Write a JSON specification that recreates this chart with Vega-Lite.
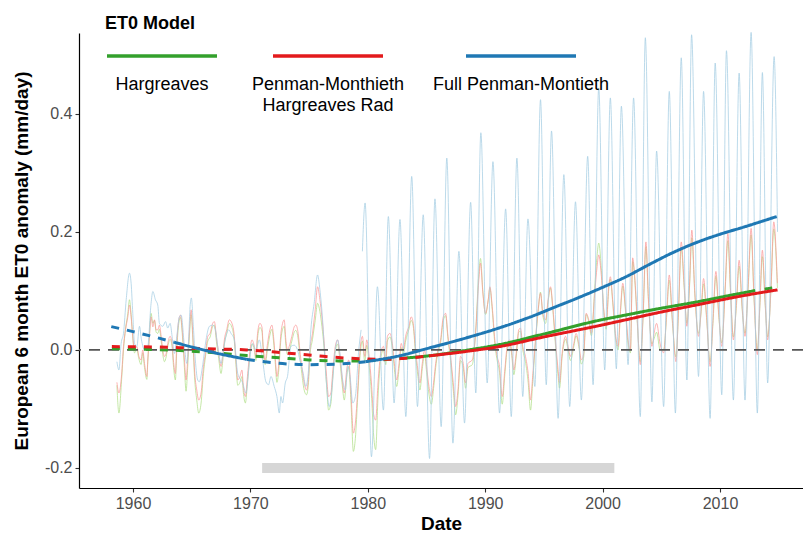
{
  "$schema": "https://vega.github.io/schema/vega-lite/v6.json",
  "width": 724,
  "height": 455,
  "autosize": {"type": "none"},
  "padding": {"left": 79, "top": 33, "right": 0, "bottom": 50},
  "background": "white",
  "config": {
    "view": {"stroke": null},
    "font": "Liberation Sans",
    "style": {"guide-label": {"dy": 20, "lineHeight": 21}},
    "axis": {"grid": false, "domainColor": "black", "domainWidth": 1.2, "tickColor": "#333333", "tickSize": 4, "tickWidth": 1.1, "labelColor": "#4d4d4d", "labelFontSize": 16, "labelFont": "Liberation Sans", "titleFont": "Liberation Sans", "titleFontSize": 19, "titleFontWeight": "bold", "titleColor": "black"}
  },
  "datasets": {
    "ref": [{"t0": 1971, "t1": 2001, "v": -0.2}],
    "noisy": [
      {"m":"H","s":"H","t":1958.63,"v":-0.060},{"m":"H","s":"H","t":1958.80,"v":-0.107},{"m":"H","s":"H","t":1959.03,"v":-0.050},{"m":"H","s":"H","t":1959.19,"v":0.000},{"m":"H","s":"H","t":1959.36,"v":0.035},{"m":"H","s":"H","t":1959.56,"v":0.062},{"m":"H","s":"H","t":1959.70,"v":0.085},{"m":"H","s":"H","t":1959.84,"v":0.060},{"m":"H","s":"H","t":1959.98,"v":0.020},{"m":"H","s":"H","t":1960.13,"v":-0.005},{"m":"H","s":"H","t":1960.33,"v":0.000},{"m":"H","s":"H","t":1960.50,"v":-0.015},{"m":"H","s":"H","t":1960.69,"v":-0.025},{"m":"H","s":"H","t":1960.83,"v":-0.005},{"m":"H","s":"H","t":1960.98,"v":-0.030},{"m":"H","s":"H","t":1961.18,"v":-0.050},{"m":"H","s":"H","t":1961.26,"v":-0.020},{"m":"H","s":"H","t":1961.40,"v":0.025},{"m":"H","s":"H","t":1961.54,"v":0.062},{"m":"H","s":"H","t":1961.69,"v":0.045},{"m":"H","s":"H","t":1961.83,"v":0.050},{"m":"H","s":"H","t":1961.97,"v":0.030},{"m":"H","s":"H","t":1962.11,"v":0.028},{"m":"H","s":"H","t":1962.25,"v":0.035},{"m":"H","s":"H","t":1962.40,"v":0.015},{"m":"H","s":"H","t":1962.54,"v":-0.008},{"m":"H","s":"H","t":1962.68,"v":-0.020},{"m":"H","s":"H","t":1962.82,"v":-0.012},{"m":"H","s":"H","t":1962.96,"v":0.005},{"m":"H","s":"H","t":1963.16,"v":0.018},{"m":"H","s":"H","t":1963.33,"v":0.005},{"m":"H","s":"H","t":1963.44,"v":-0.025},{"m":"H","s":"H","t":1963.61,"v":-0.051},{"m":"H","s":"H","t":1963.73,"v":0.000},{"m":"H","s":"H","t":1963.90,"v":0.045},{"m":"H","s":"H","t":1964.04,"v":0.055},{"m":"H","s":"H","t":1964.24,"v":0.015},{"m":"H","s":"H","t":1964.38,"v":-0.030},{"m":"H","s":"H","t":1964.52,"v":-0.070},{"m":"H","s":"H","t":1964.67,"v":-0.025},{"m":"H","s":"H","t":1964.81,"v":0.025},{"m":"H","s":"H","t":1964.95,"v":0.060},{"m":"H","s":"H","t":1965.09,"v":0.020},{"m":"H","s":"H","t":1965.24,"v":-0.045},{"m":"H","s":"H","t":1965.43,"v":-0.085},{"m":"H","s":"H","t":1965.60,"v":-0.107},{"m":"H","s":"H","t":1965.80,"v":-0.090},{"m":"H","s":"H","t":1966.00,"v":-0.040},{"m":"H","s":"H","t":1966.17,"v":-0.012},{"m":"H","s":"H","t":1966.37,"v":0.015},{"m":"H","s":"H","t":1966.57,"v":0.022},{"m":"H","s":"H","t":1966.79,"v":0.040},{"m":"H","s":"H","t":1966.93,"v":0.042},{"m":"H","s":"H","t":1967.13,"v":0.010},{"m":"H","s":"H","t":1967.30,"v":-0.015},{"m":"H","s":"H","t":1967.50,"v":-0.040},{"m":"H","s":"H","t":1967.64,"v":-0.020},{"m":"H","s":"H","t":1967.78,"v":0.010},{"m":"H","s":"H","t":1967.98,"v":0.028},{"m":"H","s":"H","t":1968.20,"v":0.045},{"m":"H","s":"H","t":1968.43,"v":0.038},{"m":"H","s":"H","t":1968.63,"v":0.015},{"m":"H","s":"H","t":1968.77,"v":-0.025},{"m":"H","s":"H","t":1968.92,"v":-0.060},{"m":"H","s":"H","t":1969.11,"v":-0.055},{"m":"H","s":"H","t":1969.28,"v":-0.045},{"m":"H","s":"H","t":1969.40,"v":-0.072},{"m":"H","s":"H","t":1969.57,"v":-0.090},{"m":"H","s":"H","t":1969.77,"v":-0.050},{"m":"H","s":"H","t":1969.97,"v":-0.008},{"m":"H","s":"H","t":1970.13,"v":0.010},{"m":"H","s":"H","t":1970.33,"v":0.000},{"m":"H","s":"H","t":1970.47,"v":-0.018},{"m":"H","s":"H","t":1970.61,"v":0.020},{"m":"H","s":"H","t":1970.81,"v":0.038},{"m":"H","s":"H","t":1970.98,"v":0.032},{"m":"H","s":"H","t":1971.09,"v":0.000},{"m":"H","s":"H","t":1971.26,"v":-0.025},{"m":"H","s":"H","t":1971.46,"v":0.002},{"m":"H","s":"H","t":1971.66,"v":0.025},{"m":"H","s":"H","t":1971.83,"v":0.035},{"m":"H","s":"H","t":1971.97,"v":0.015},{"m":"H","s":"H","t":1972.11,"v":-0.020},{"m":"H","s":"H","t":1972.26,"v":-0.055},{"m":"H","s":"H","t":1972.40,"v":-0.038},{"m":"H","s":"H","t":1972.60,"v":0.018},{"m":"H","s":"H","t":1972.74,"v":0.035},{"m":"H","s":"H","t":1972.88,"v":0.040},{"m":"H","s":"H","t":1973.02,"v":0.008},{"m":"H","s":"H","t":1973.16,"v":-0.008},{"m":"H","s":"H","t":1973.30,"v":-0.002},{"m":"H","s":"H","t":1973.53,"v":0.015},{"m":"H","s":"H","t":1973.73,"v":0.030},{"m":"H","s":"H","t":1973.87,"v":0.033},{"m":"H","s":"H","t":1974.07,"v":0.018},{"m":"H","s":"H","t":1974.21,"v":-0.010},{"m":"H","s":"H","t":1974.38,"v":-0.040},{"m":"H","s":"H","t":1974.58,"v":-0.068},{"m":"H","s":"H","t":1974.78,"v":-0.076},{"m":"H","s":"H","t":1974.95,"v":-0.055},{"m":"H","s":"H","t":1975.07,"v":-0.010},{"m":"H","s":"H","t":1975.29,"v":0.018},{"m":"H","s":"H","t":1975.52,"v":0.050},{"m":"H","s":"H","t":1975.72,"v":0.079},{"m":"H","s":"H","t":1975.92,"v":0.065},{"m":"H","s":"H","t":1976.09,"v":0.040},{"m":"H","s":"H","t":1976.29,"v":0.000},{"m":"H","s":"H","t":1976.49,"v":-0.060},{"m":"H","s":"H","t":1976.66,"v":-0.102},{"m":"H","s":"H","t":1976.86,"v":-0.090},{"m":"H","s":"H","t":1977.00,"v":-0.050},{"m":"H","s":"H","t":1977.23,"v":-0.002},{"m":"H","s":"H","t":1977.43,"v":0.010},{"m":"H","s":"H","t":1977.57,"v":-0.008},{"m":"H","s":"H","t":1977.80,"v":-0.055},{"m":"H","s":"H","t":1978.00,"v":-0.085},{"m":"H","s":"H","t":1978.20,"v":-0.045},{"m":"H","s":"H","t":1978.37,"v":-0.028},{"m":"H","s":"H","t":1978.57,"v":-0.090},{"m":"H","s":"H","t":1978.77,"v":-0.172},{"m":"H","s":"H","t":1978.94,"v":-0.150},{"m":"H","s":"H","t":1979.14,"v":-0.080},{"m":"H","s":"H","t":1979.34,"v":-0.010},{"m":"H","s":"H","t":1979.54,"v":0.015},{"m":"H","s":"H","t":1979.74,"v":-0.020},{"m":"H","s":"H","t":1979.91,"v":0.008},{"m":"H","s":"H","t":1980.11,"v":-0.025},{"m":"H","s":"H","t":1980.31,"v":-0.075},{"m":"H","s":"H","t":1980.48,"v":-0.140},{"m":"H","s":"H","t":1980.67,"v":-0.169},{"m":"H","s":"H","t":1980.87,"v":-0.080},{"m":"H","s":"H","t":1981.10,"v":-0.015},{"m":"H","s":"H","t":1981.33,"v":0.000},{"m":"H","s":"H","t":1981.53,"v":-0.025},{"m":"H","s":"H","t":1981.67,"v":0.015},{"m":"H","s":"H","t":1981.89,"v":0.022},{"m":"H","s":"H","t":1982.09,"v":0.003},{"m":"H","s":"H","t":1982.29,"v":-0.038},{"m":"H","s":"H","t":1982.46,"v":-0.062},{"m":"H","s":"H","t":1982.66,"v":-0.032},{"m":"H","s":"H","t":1982.85,"v":0.004},{"m":"H","s":"H","t":1983.02,"v":-0.008},{"m":"H","s":"H","t":1983.22,"v":0.015},{"m":"H","s":"H","t":1983.50,"v":0.035},{"m":"H","s":"H","t":1983.70,"v":0.050},{"m":"H","s":"H","t":1983.87,"v":0.040},{"m":"H","s":"H","t":1984.07,"v":-0.008},{"m":"H","s":"H","t":1984.27,"v":-0.045},{"m":"H","s":"H","t":1984.44,"v":-0.068},{"m":"H","s":"H","t":1984.64,"v":-0.032},{"m":"H","s":"H","t":1984.84,"v":-0.008},{"m":"H","s":"H","t":1985.01,"v":-0.038},{"m":"H","s":"H","t":1985.21,"v":-0.075},{"m":"H","s":"H","t":1985.41,"v":-0.092},{"m":"H","s":"H","t":1985.63,"v":-0.060},{"m":"H","s":"H","t":1985.78,"v":-0.030},{"m":"H","s":"H","t":1985.97,"v":-0.005},{"m":"H","s":"H","t":1986.20,"v":0.012},{"m":"H","s":"H","t":1986.43,"v":0.050},{"m":"H","s":"H","t":1986.63,"v":0.058},{"m":"H","s":"H","t":1986.83,"v":0.018},{"m":"H","s":"H","t":1987.05,"v":-0.018},{"m":"H","s":"H","t":1987.28,"v":-0.068},{"m":"H","s":"H","t":1987.48,"v":-0.110},{"m":"H","s":"H","t":1987.68,"v":-0.078},{"m":"H","s":"H","t":1987.90,"v":-0.018},{"m":"H","s":"H","t":1988.13,"v":-0.030},{"m":"H","s":"H","t":1988.33,"v":-0.065},{"m":"H","s":"H","t":1988.53,"v":-0.030},{"m":"H","s":"H","t":1988.90,"v":-0.025},{"m":"H","s":"H","t":1989.18,"v":0.030},{"m":"H","s":"H","t":1989.46,"v":0.130},{"m":"H","s":"H","t":1989.60,"v":0.155},{"m":"H","s":"H","t":1989.80,"v":0.100},{"m":"H","s":"H","t":1990.03,"v":0.060},{"m":"H","s":"H","t":1990.26,"v":0.085},{"m":"H","s":"H","t":1990.40,"v":0.105},{"m":"H","s":"H","t":1990.60,"v":0.068},{"m":"H","s":"H","t":1990.82,"v":0.010},{"m":"H","s":"H","t":1991.02,"v":-0.018},{"m":"H","s":"H","t":1991.22,"v":-0.038},{"m":"H","s":"H","t":1991.45,"v":-0.092},{"m":"H","s":"H","t":1991.67,"v":-0.042},{"m":"H","s":"H","t":1991.87,"v":0.000},{"m":"H","s":"H","t":1992.07,"v":0.012},{"m":"H","s":"H","t":1992.24,"v":-0.005},{"m":"H","s":"H","t":1992.44,"v":-0.042},{"m":"H","s":"H","t":1992.64,"v":-0.012},{"m":"H","s":"H","t":1992.86,"v":0.030},{"m":"H","s":"H","t":1993.00,"v":0.032},{"m":"H","s":"H","t":1993.20,"v":0.000},{"m":"H","s":"H","t":1993.43,"v":-0.020},{"m":"H","s":"H","t":1993.66,"v":-0.055},{"m":"H","s":"H","t":1993.86,"v":-0.102},{"m":"H","s":"H","t":1994.06,"v":-0.050},{"m":"H","s":"H","t":1994.28,"v":0.012},{"m":"H","s":"H","t":1994.51,"v":0.065},{"m":"H","s":"H","t":1994.71,"v":0.098},{"m":"H","s":"H","t":1994.91,"v":0.058},{"m":"H","s":"H","t":1995.14,"v":0.045},{"m":"H","s":"H","t":1995.36,"v":0.082},{"m":"H","s":"H","t":1995.56,"v":0.105},{"m":"H","s":"H","t":1995.76,"v":0.068},{"m":"H","s":"H","t":1995.98,"v":0.010},{"m":"H","s":"H","t":1996.21,"v":-0.045},{"m":"H","s":"H","t":1996.33,"v":-0.065},{"m":"H","s":"H","t":1996.55,"v":-0.012},{"m":"H","s":"H","t":1996.84,"v":0.018},{"m":"H","s":"H","t":1997.06,"v":0.000},{"m":"H","s":"H","t":1997.26,"v":-0.018},{"m":"H","s":"H","t":1997.55,"v":0.006},{"m":"H","s":"H","t":1997.74,"v":0.024},{"m":"H","s":"H","t":1997.97,"v":0.006},{"m":"H","s":"H","t":1998.19,"v":-0.024},{"m":"H","s":"H","t":1998.39,"v":-0.012},{"m":"H","s":"H","t":1998.60,"v":0.060},{"m":"H","s":"H","t":1998.82,"v":0.048},{"m":"H","s":"H","t":1999.05,"v":0.024},{"m":"H","s":"H","t":1999.33,"v":0.105},{"m":"H","s":"H","t":1999.53,"v":0.160},{"m":"H","s":"H","t":1999.67,"v":0.181},{"m":"H","s":"H","t":1999.90,"v":0.135},{"m":"H","s":"H","t":2000.10,"v":0.065},{"m":"H","s":"H","t":2000.30,"v":0.035},{"m":"H","s":"H","t":2000.52,"v":0.102},{"m":"H","s":"H","t":2000.66,"v":0.120},{"m":"H","s":"H","t":2000.86,"v":0.080},{"m":"H","s":"H","t":2001.09,"v":0.022},{"m":"H","s":"H","t":2001.32,"v":0.000},{"m":"H","s":"H","t":2001.52,"v":0.062},{"m":"H","s":"H","t":2001.72,"v":0.108},{"m":"H","s":"H","t":2001.94,"v":0.068},{"m":"H","s":"H","t":2002.17,"v":0.010},{"m":"H","s":"H","t":2002.37,"v":-0.005},{"m":"H","s":"H","t":2002.56,"v":0.150},{"m":"H","s":"H","t":2002.74,"v":0.118},{"m":"H","s":"H","t":2002.94,"v":0.050},{"m":"H","s":"H","t":2003.21,"v":-0.020},{"m":"H","s":"H","t":2003.45,"v":0.055},{"m":"H","s":"H","t":2003.69,"v":0.175},{"m":"H","s":"H","t":2003.90,"v":0.085},{"m":"H","s":"H","t":2004.20,"v":0.010},{"m":"H","s":"H","t":2004.40,"v":0.020},{"m":"H","s":"H","t":2004.60,"v":0.030},{"m":"H","s":"H","t":2004.90,"v":0.000},{"m":"H","s":"H","t":2005.20,"v":0.000},{"m":"H","s":"H","t":2005.45,"v":0.055},{"m":"H","s":"H","t":2005.68,"v":0.118},{"m":"H","s":"H","t":2005.95,"v":0.045},{"m":"H","s":"H","t":2006.25,"v":-0.012},{"m":"H","s":"H","t":2006.45,"v":0.055},{"m":"H","s":"H","t":2006.70,"v":0.172},{"m":"H","s":"H","t":2006.95,"v":0.105},{"m":"H","s":"H","t":2007.18,"v":0.045},{"m":"H","s":"H","t":2007.40,"v":0.105},{"m":"H","s":"H","t":2007.60,"v":0.190},{"m":"H","s":"H","t":2007.85,"v":0.095},{"m":"H","s":"H","t":2008.17,"v":0.028},{"m":"H","s":"H","t":2008.40,"v":0.065},{"m":"H","s":"H","t":2008.60,"v":0.112},{"m":"H","s":"H","t":2008.85,"v":0.055},{"m":"H","s":"H","t":2009.16,"v":-0.020},{"m":"H","s":"H","t":2009.40,"v":0.045},{"m":"H","s":"H","t":2009.65,"v":0.125},{"m":"H","s":"H","t":2009.90,"v":0.055},{"m":"H","s":"H","t":2010.15,"v":0.012},{"m":"H","s":"H","t":2010.45,"v":0.105},{"m":"H","s":"H","t":2010.67,"v":0.185},{"m":"H","s":"H","t":2010.90,"v":0.095},{"m":"H","s":"H","t":2011.14,"v":0.022},{"m":"H","s":"H","t":2011.40,"v":0.075},{"m":"H","s":"H","t":2011.63,"v":0.142},{"m":"H","s":"H","t":2011.90,"v":0.065},{"m":"H","s":"H","t":2012.13,"v":0.028},{"m":"H","s":"H","t":2012.40,"v":0.105},{"m":"H","s":"H","t":2012.65,"v":0.195},{"m":"H","s":"H","t":2012.90,"v":0.085},{"m":"H","s":"H","t":2013.18,"v":0.000},{"m":"H","s":"H","t":2013.40,"v":0.075},{"m":"H","s":"H","t":2013.61,"v":0.158},{"m":"H","s":"H","t":2013.85,"v":0.075},{"m":"H","s":"H","t":2014.06,"v":0.022},{"m":"H","s":"H","t":2014.35,"v":0.105},{"m":"H","s":"H","t":2014.58,"v":0.205},{"m":"H","s":"H","t":2014.89,"v":0.105},
      {"m":"P","s":"P","t":1958.63,"v":-0.055},{"m":"P","s":"P","t":1958.80,"v":-0.073},{"m":"P","s":"P","t":1959.03,"v":-0.042},{"m":"P","s":"P","t":1959.19,"v":0.006},{"m":"P","s":"P","t":1959.36,"v":0.034},{"m":"P","s":"P","t":1959.56,"v":0.056},{"m":"P","s":"P","t":1959.70,"v":0.076},{"m":"P","s":"P","t":1959.84,"v":0.056},{"m":"P","s":"P","t":1959.98,"v":0.023},{"m":"P","s":"P","t":1960.13,"v":0.000},{"m":"P","s":"P","t":1960.33,"v":0.006},{"m":"P","s":"P","t":1960.50,"v":-0.011},{"m":"P","s":"P","t":1960.69,"v":-0.017},{"m":"P","s":"P","t":1960.83,"v":0.000},{"m":"P","s":"P","t":1960.98,"v":-0.023},{"m":"P","s":"P","t":1961.18,"v":-0.045},{"m":"P","s":"P","t":1961.26,"v":-0.017},{"m":"P","s":"P","t":1961.40,"v":0.023},{"m":"P","s":"P","t":1961.54,"v":0.056},{"m":"P","s":"P","t":1961.69,"v":0.039},{"m":"P","s":"P","t":1961.83,"v":0.051},{"m":"P","s":"P","t":1961.97,"v":0.034},{"m":"P","s":"P","t":1962.11,"v":0.034},{"m":"P","s":"P","t":1962.25,"v":0.042},{"m":"P","s":"P","t":1962.40,"v":0.023},{"m":"P","s":"P","t":1962.54,"v":0.000},{"m":"P","s":"P","t":1962.68,"v":-0.011},{"m":"P","s":"P","t":1962.82,"v":-0.006},{"m":"P","s":"P","t":1962.96,"v":0.011},{"m":"P","s":"P","t":1963.16,"v":0.023},{"m":"P","s":"P","t":1963.33,"v":0.011},{"m":"P","s":"P","t":1963.44,"v":-0.017},{"m":"P","s":"P","t":1963.61,"v":-0.040},{"m":"P","s":"P","t":1963.73,"v":0.011},{"m":"P","s":"P","t":1963.90,"v":0.051},{"m":"P","s":"P","t":1964.04,"v":0.059},{"m":"P","s":"P","t":1964.24,"v":0.023},{"m":"P","s":"P","t":1964.38,"v":-0.017},{"m":"P","s":"P","t":1964.52,"v":-0.051},{"m":"P","s":"P","t":1964.67,"v":-0.011},{"m":"P","s":"P","t":1964.81,"v":0.034},{"m":"P","s":"P","t":1964.95,"v":0.068},{"m":"P","s":"P","t":1965.09,"v":0.028},{"m":"P","s":"P","t":1965.24,"v":-0.034},{"m":"P","s":"P","t":1965.43,"v":-0.068},{"m":"P","s":"P","t":1965.60,"v":-0.085},{"m":"P","s":"P","t":1965.80,"v":-0.073},{"m":"P","s":"P","t":1966.00,"v":-0.028},{"m":"P","s":"P","t":1966.17,"v":-0.006},{"m":"P","s":"P","t":1966.37,"v":0.023},{"m":"P","s":"P","t":1966.57,"v":0.028},{"m":"P","s":"P","t":1966.79,"v":0.045},{"m":"P","s":"P","t":1966.93,"v":0.048},{"m":"P","s":"P","t":1967.13,"v":0.017},{"m":"P","s":"P","t":1967.30,"v":-0.006},{"m":"P","s":"P","t":1967.50,"v":-0.028},{"m":"P","s":"P","t":1967.64,"v":-0.011},{"m":"P","s":"P","t":1967.78,"v":0.017},{"m":"P","s":"P","t":1967.98,"v":0.034},{"m":"P","s":"P","t":1968.20,"v":0.051},{"m":"P","s":"P","t":1968.43,"v":0.045},{"m":"P","s":"P","t":1968.63,"v":0.023},{"m":"P","s":"P","t":1968.77,"v":-0.017},{"m":"P","s":"P","t":1968.92,"v":-0.051},{"m":"P","s":"P","t":1969.11,"v":-0.045},{"m":"P","s":"P","t":1969.28,"v":-0.034},{"m":"P","s":"P","t":1969.40,"v":-0.062},{"m":"P","s":"P","t":1969.57,"v":-0.079},{"m":"P","s":"P","t":1969.77,"v":-0.040},{"m":"P","s":"P","t":1969.97,"v":0.000},{"m":"P","s":"P","t":1970.13,"v":0.017},{"m":"P","s":"P","t":1970.33,"v":0.006},{"m":"P","s":"P","t":1970.47,"v":-0.011},{"m":"P","s":"P","t":1970.61,"v":0.028},{"m":"P","s":"P","t":1970.81,"v":0.045},{"m":"P","s":"P","t":1970.98,"v":0.039},{"m":"P","s":"P","t":1971.09,"v":0.006},{"m":"P","s":"P","t":1971.26,"v":-0.017},{"m":"P","s":"P","t":1971.46,"v":0.011},{"m":"P","s":"P","t":1971.66,"v":0.034},{"m":"P","s":"P","t":1971.83,"v":0.042},{"m":"P","s":"P","t":1971.97,"v":0.023},{"m":"P","s":"P","t":1972.11,"v":-0.011},{"m":"P","s":"P","t":1972.26,"v":-0.045},{"m":"P","s":"P","t":1972.40,"v":-0.028},{"m":"P","s":"P","t":1972.60,"v":0.028},{"m":"P","s":"P","t":1972.74,"v":0.045},{"m":"P","s":"P","t":1972.88,"v":0.051},{"m":"P","s":"P","t":1973.02,"v":0.017},{"m":"P","s":"P","t":1973.16,"v":0.000},{"m":"P","s":"P","t":1973.30,"v":0.006},{"m":"P","s":"P","t":1973.53,"v":0.023},{"m":"P","s":"P","t":1973.73,"v":0.039},{"m":"P","s":"P","t":1973.87,"v":0.042},{"m":"P","s":"P","t":1974.07,"v":0.028},{"m":"P","s":"P","t":1974.21,"v":0.000},{"m":"P","s":"P","t":1974.38,"v":-0.028},{"m":"P","s":"P","t":1974.58,"v":-0.056},{"m":"P","s":"P","t":1974.78,"v":-0.068},{"m":"P","s":"P","t":1974.95,"v":-0.045},{"m":"P","s":"P","t":1975.07,"v":0.000},{"m":"P","s":"P","t":1975.29,"v":0.028},{"m":"P","s":"P","t":1975.52,"v":0.068},{"m":"P","s":"P","t":1975.72,"v":0.107},{"m":"P","s":"P","t":1975.92,"v":0.085},{"m":"P","s":"P","t":1976.09,"v":0.056},{"m":"P","s":"P","t":1976.29,"v":0.011},{"m":"P","s":"P","t":1976.49,"v":-0.045},{"m":"P","s":"P","t":1976.66,"v":-0.079},{"m":"P","s":"P","t":1976.86,"v":-0.073},{"m":"P","s":"P","t":1977.00,"v":-0.040},{"m":"P","s":"P","t":1977.23,"v":0.006},{"m":"P","s":"P","t":1977.43,"v":0.017},{"m":"P","s":"P","t":1977.57,"v":0.000},{"m":"P","s":"P","t":1977.80,"v":-0.045},{"m":"P","s":"P","t":1978.00,"v":-0.073},{"m":"P","s":"P","t":1978.20,"v":-0.034},{"m":"P","s":"P","t":1978.37,"v":-0.017},{"m":"P","s":"P","t":1978.57,"v":-0.073},{"m":"P","s":"P","t":1978.77,"v":-0.141},{"m":"P","s":"P","t":1978.94,"v":-0.124},{"m":"P","s":"P","t":1979.14,"v":-0.068},{"m":"P","s":"P","t":1979.34,"v":0.000},{"m":"P","s":"P","t":1979.54,"v":0.023},{"m":"P","s":"P","t":1979.74,"v":-0.011},{"m":"P","s":"P","t":1979.91,"v":0.017},{"m":"P","s":"P","t":1980.11,"v":-0.011},{"m":"P","s":"P","t":1980.31,"v":-0.056},{"m":"P","s":"P","t":1980.48,"v":-0.107},{"m":"P","s":"P","t":1980.67,"v":-0.119},{"m":"P","s":"P","t":1980.87,"v":-0.056},{"m":"P","s":"P","t":1981.10,"v":-0.006},{"m":"P","s":"P","t":1981.33,"v":0.006},{"m":"P","s":"P","t":1981.53,"v":-0.017},{"m":"P","s":"P","t":1981.67,"v":0.023},{"m":"P","s":"P","t":1981.89,"v":0.028},{"m":"P","s":"P","t":1982.09,"v":0.011},{"m":"P","s":"P","t":1982.29,"v":-0.028},{"m":"P","s":"P","t":1982.46,"v":-0.051},{"m":"P","s":"P","t":1982.66,"v":-0.023},{"m":"P","s":"P","t":1982.85,"v":0.011},{"m":"P","s":"P","t":1983.02,"v":0.000},{"m":"P","s":"P","t":1983.22,"v":0.023},{"m":"P","s":"P","t":1983.50,"v":0.040},{"m":"P","s":"P","t":1983.70,"v":0.056},{"m":"P","s":"P","t":1983.87,"v":0.045},{"m":"P","s":"P","t":1984.07,"v":0.000},{"m":"P","s":"P","t":1984.27,"v":-0.034},{"m":"P","s":"P","t":1984.44,"v":-0.056},{"m":"P","s":"P","t":1984.64,"v":-0.023},{"m":"P","s":"P","t":1984.84,"v":0.000},{"m":"P","s":"P","t":1985.01,"v":-0.028},{"m":"P","s":"P","t":1985.21,"v":-0.062},{"m":"P","s":"P","t":1985.41,"v":-0.079},{"m":"P","s":"P","t":1985.63,"v":-0.051},{"m":"P","s":"P","t":1985.78,"v":-0.023},{"m":"P","s":"P","t":1985.97,"v":0.000},{"m":"P","s":"P","t":1986.20,"v":0.017},{"m":"P","s":"P","t":1986.43,"v":0.056},{"m":"P","s":"P","t":1986.63,"v":0.062},{"m":"P","s":"P","t":1986.83,"v":0.023},{"m":"P","s":"P","t":1987.05,"v":-0.011},{"m":"P","s":"P","t":1987.28,"v":-0.056},{"m":"P","s":"P","t":1987.48,"v":-0.096},{"m":"P","s":"P","t":1987.68,"v":-0.068},{"m":"P","s":"P","t":1987.90,"v":-0.011},{"m":"P","s":"P","t":1988.13,"v":-0.023},{"m":"P","s":"P","t":1988.33,"v":-0.056},{"m":"P","s":"P","t":1988.53,"v":-0.023},{"m":"P","s":"P","t":1988.90,"v":-0.017},{"m":"P","s":"P","t":1989.18,"v":0.028},{"m":"P","s":"P","t":1989.46,"v":0.119},{"m":"P","s":"P","t":1989.60,"v":0.147},{"m":"P","s":"P","t":1989.80,"v":0.096},{"m":"P","s":"P","t":1990.03,"v":0.062},{"m":"P","s":"P","t":1990.26,"v":0.085},{"m":"P","s":"P","t":1990.40,"v":0.107},{"m":"P","s":"P","t":1990.60,"v":0.073},{"m":"P","s":"P","t":1990.82,"v":0.017},{"m":"P","s":"P","t":1991.02,"v":-0.011},{"m":"P","s":"P","t":1991.22,"v":-0.028},{"m":"P","s":"P","t":1991.45,"v":-0.079},{"m":"P","s":"P","t":1991.67,"v":-0.034},{"m":"P","s":"P","t":1991.87,"v":0.006},{"m":"P","s":"P","t":1992.07,"v":0.017},{"m":"P","s":"P","t":1992.24,"v":0.000},{"m":"P","s":"P","t":1992.44,"v":-0.034},{"m":"P","s":"P","t":1992.64,"v":-0.006},{"m":"P","s":"P","t":1992.86,"v":0.034},{"m":"P","s":"P","t":1993.00,"v":0.037},{"m":"P","s":"P","t":1993.20,"v":0.006},{"m":"P","s":"P","t":1993.43,"v":-0.011},{"m":"P","s":"P","t":1993.66,"v":-0.040},{"m":"P","s":"P","t":1993.86,"v":-0.085},{"m":"P","s":"P","t":1994.06,"v":-0.040},{"m":"P","s":"P","t":1994.28,"v":0.017},{"m":"P","s":"P","t":1994.51,"v":0.068},{"m":"P","s":"P","t":1994.71,"v":0.096},{"m":"P","s":"P","t":1994.91,"v":0.062},{"m":"P","s":"P","t":1995.14,"v":0.051},{"m":"P","s":"P","t":1995.36,"v":0.085},{"m":"P","s":"P","t":1995.56,"v":0.107},{"m":"P","s":"P","t":1995.76,"v":0.073},{"m":"P","s":"P","t":1995.98,"v":0.017},{"m":"P","s":"P","t":1996.21,"v":-0.034},{"m":"P","s":"P","t":1996.33,"v":-0.056},{"m":"P","s":"P","t":1996.55,"v":-0.006},{"m":"P","s":"P","t":1996.84,"v":0.023},{"m":"P","s":"P","t":1997.06,"v":0.006},{"m":"P","s":"P","t":1997.26,"v":-0.011},{"m":"P","s":"P","t":1997.55,"v":0.011},{"m":"P","s":"P","t":1997.74,"v":0.028},{"m":"P","s":"P","t":1997.97,"v":0.011},{"m":"P","s":"P","t":1998.19,"v":-0.017},{"m":"P","s":"P","t":1998.39,"v":-0.006},{"m":"P","s":"P","t":1998.60,"v":0.062},{"m":"P","s":"P","t":1998.82,"v":0.051},{"m":"P","s":"P","t":1999.05,"v":0.028},{"m":"P","s":"P","t":1999.33,"v":0.096},{"m":"P","s":"P","t":1999.53,"v":0.141},{"m":"P","s":"P","t":1999.67,"v":0.161},{"m":"P","s":"P","t":1999.90,"v":0.124},{"m":"P","s":"P","t":2000.10,"v":0.068},{"m":"P","s":"P","t":2000.30,"v":0.040},{"m":"P","s":"P","t":2000.52,"v":0.107},{"m":"P","s":"P","t":2000.66,"v":0.124},{"m":"P","s":"P","t":2000.86,"v":0.085},{"m":"P","s":"P","t":2001.09,"v":0.028},{"m":"P","s":"P","t":2001.32,"v":0.006},{"m":"P","s":"P","t":2001.52,"v":0.068},{"m":"P","s":"P","t":2001.72,"v":0.113},{"m":"P","s":"P","t":2001.94,"v":0.073},{"m":"P","s":"P","t":2002.17,"v":0.017},{"m":"P","s":"P","t":2002.37,"v":0.000},{"m":"P","s":"P","t":2002.56,"v":0.156},{"m":"P","s":"P","t":2002.74,"v":0.124},{"m":"P","s":"P","t":2002.94,"v":0.056},{"m":"P","s":"P","t":2003.21,"v":-0.025},{"m":"P","s":"P","t":2003.45,"v":0.060},{"m":"P","s":"P","t":2003.69,"v":0.183},{"m":"P","s":"P","t":2003.90,"v":0.090},{"m":"P","s":"P","t":2004.20,"v":0.006},{"m":"P","s":"P","t":2004.40,"v":0.030},{"m":"P","s":"P","t":2004.60,"v":0.045},{"m":"P","s":"P","t":2004.90,"v":0.010},{"m":"P","s":"P","t":2005.20,"v":-0.005},{"m":"P","s":"P","t":2005.45,"v":0.060},{"m":"P","s":"P","t":2005.68,"v":0.127},{"m":"P","s":"P","t":2005.95,"v":0.050},{"m":"P","s":"P","t":2006.25,"v":-0.020},{"m":"P","s":"P","t":2006.45,"v":0.060},{"m":"P","s":"P","t":2006.70,"v":0.183},{"m":"P","s":"P","t":2006.95,"v":0.110},{"m":"P","s":"P","t":2007.18,"v":0.040},{"m":"P","s":"P","t":2007.40,"v":0.110},{"m":"P","s":"P","t":2007.60,"v":0.203},{"m":"P","s":"P","t":2007.85,"v":0.100},{"m":"P","s":"P","t":2008.17,"v":0.023},{"m":"P","s":"P","t":2008.40,"v":0.070},{"m":"P","s":"P","t":2008.60,"v":0.121},{"m":"P","s":"P","t":2008.85,"v":0.060},{"m":"P","s":"P","t":2009.16,"v":-0.028},{"m":"P","s":"P","t":2009.40,"v":0.050},{"m":"P","s":"P","t":2009.65,"v":0.133},{"m":"P","s":"P","t":2009.90,"v":0.060},{"m":"P","s":"P","t":2010.15,"v":0.006},{"m":"P","s":"P","t":2010.45,"v":0.110},{"m":"P","s":"P","t":2010.67,"v":0.198},{"m":"P","s":"P","t":2010.90,"v":0.100},{"m":"P","s":"P","t":2011.14,"v":0.017},{"m":"P","s":"P","t":2011.40,"v":0.080},{"m":"P","s":"P","t":2011.63,"v":0.152},{"m":"P","s":"P","t":2011.90,"v":0.070},{"m":"P","s":"P","t":2012.13,"v":0.023},{"m":"P","s":"P","t":2012.40,"v":0.110},{"m":"P","s":"P","t":2012.65,"v":0.206},{"m":"P","s":"P","t":2012.90,"v":0.090},{"m":"P","s":"P","t":2013.18,"v":-0.008},{"m":"P","s":"P","t":2013.40,"v":0.080},{"m":"P","s":"P","t":2013.61,"v":0.169},{"m":"P","s":"P","t":2013.85,"v":0.080},{"m":"P","s":"P","t":2014.06,"v":0.017},{"m":"P","s":"P","t":2014.35,"v":0.110},{"m":"P","s":"P","t":2014.58,"v":0.217},{"m":"P","s":"P","t":2014.89,"v":0.113},
      {"m":"F","s":"Fa","t":1958.63,"v":-0.020},{"m":"F","s":"Fa","t":1958.80,"v":-0.034},{"m":"F","s":"Fa","t":1958.99,"v":0.011},{"m":"F","s":"Fa","t":1959.19,"v":0.028},{"m":"F","s":"Fa","t":1959.42,"v":0.085},{"m":"F","s":"Fa","t":1959.70,"v":0.130},{"m":"F","s":"Fa","t":1959.84,"v":0.113},{"m":"F","s":"Fa","t":1959.98,"v":0.062},{"m":"F","s":"Fa","t":1960.13,"v":0.011},{"m":"F","s":"Fa","t":1960.33,"v":0.006},{"m":"F","s":"Fa","t":1960.55,"v":0.040},{"m":"F","s":"Fa","t":1960.72,"v":0.017},{"m":"F","s":"Fa","t":1960.98,"v":0.000},{"m":"F","s":"Fa","t":1961.26,"v":0.006},{"m":"F","s":"Fa","t":1961.54,"v":0.079},{"m":"F","s":"Fa","t":1961.69,"v":0.099},{"m":"F","s":"Fa","t":1961.91,"v":0.085},{"m":"F","s":"Fa","t":1962.11,"v":0.076},{"m":"F","s":"Fa","t":1962.25,"v":0.045},{"m":"F","s":"Fa","t":1962.54,"v":0.040},{"m":"F","s":"Fa","t":1962.77,"v":0.048},{"m":"F","s":"Fa","t":1962.96,"v":0.037},{"m":"F","s":"Fa","t":1963.16,"v":0.045},{"m":"F","s":"Fa","t":1963.33,"v":0.023},{"m":"F","s":"Fa","t":1963.53,"v":-0.006},{"m":"F","s":"Fa","t":1963.73,"v":0.023},{"m":"F","s":"Fa","t":1963.95,"v":0.056},{"m":"F","s":"Fa","t":1964.10,"v":0.059},{"m":"F","s":"Fa","t":1964.38,"v":0.006},{"m":"F","s":"Fa","t":1964.58,"v":-0.023},{"m":"F","s":"Fa","t":1964.75,"v":0.023},{"m":"F","s":"Fa","t":1964.86,"v":0.073},{"m":"F","s":"Fa","t":1964.97,"v":0.088},{"m":"F","s":"Fa","t":1965.14,"v":0.040},{"m":"F","s":"Fa","t":1965.31,"v":-0.017},{"m":"F","s":"Fa","t":1965.51,"v":-0.051},{"m":"F","s":"Fa","t":1965.65,"v":-0.054},{"m":"F","s":"Fa","t":1965.94,"v":-0.025},{"m":"F","s":"Fa","t":1966.22,"v":0.017},{"m":"F","s":"Fa","t":1966.51,"v":0.040},{"m":"F","s":"Fa","t":1966.79,"v":0.042},{"m":"F","s":"Fa","t":1967.02,"v":0.034},{"m":"F","s":"Fa","t":1967.22,"v":0.006},{"m":"F","s":"Fa","t":1967.50,"v":-0.023},{"m":"F","s":"Fa","t":1967.70,"v":0.000},{"m":"F","s":"Fa","t":1967.92,"v":0.023},{"m":"F","s":"Fa","t":1968.15,"v":0.034},{"m":"F","s":"Fa","t":1968.35,"v":0.028},{"m":"F","s":"Fa","t":1968.63,"v":0.017},{"m":"F","s":"Fa","t":1968.92,"v":-0.040},{"m":"F","s":"Fa","t":1969.34,"v":-0.056},{"m":"F","s":"Fa","t":1969.62,"v":-0.073},{"m":"F","s":"Fa","t":1969.97,"v":-0.011},{"m":"F","s":"Fa","t":1970.19,"v":0.011},{"m":"F","s":"Fa","t":1970.47,"v":0.000},{"m":"F","s":"Fa","t":1970.76,"v":0.017},{"m":"F","s":"Fa","t":1971.04,"v":-0.017},{"m":"F","s":"Fa","t":1971.32,"v":-0.054},{"m":"F","s":"Fa","t":1971.55,"v":-0.059},{"m":"F","s":"Fa","t":1971.75,"v":-0.045},{"m":"F","s":"Fa","t":1972.03,"v":-0.062},{"m":"F","s":"Fa","t":1972.26,"v":-0.079},{"m":"F","s":"Fa","t":1972.46,"v":-0.107},{"m":"F","s":"Fa","t":1972.60,"v":-0.079},{"m":"F","s":"Fa","t":1972.74,"v":-0.090},{"m":"F","s":"Fa","t":1972.97,"v":-0.056},{"m":"F","s":"Fa","t":1973.16,"v":-0.045},{"m":"F","s":"Fa","t":1973.45,"v":0.006},{"m":"F","s":"Fa","t":1973.73,"v":0.008},{"m":"F","s":"Fa","t":1974.01,"v":0.000},{"m":"F","s":"Fa","t":1974.21,"v":-0.017},{"m":"F","s":"Fa","t":1974.50,"v":-0.040},{"m":"F","s":"Fa","t":1974.72,"v":-0.062},{"m":"F","s":"Fa","t":1974.95,"v":-0.034},{"m":"F","s":"Fa","t":1975.15,"v":0.034},{"m":"F","s":"Fa","t":1975.43,"v":0.079},{"m":"F","s":"Fa","t":1975.72,"v":0.127},{"m":"F","s":"Fa","t":1975.92,"v":0.102},{"m":"F","s":"Fa","t":1976.15,"v":0.051},{"m":"F","s":"Fa","t":1976.43,"v":-0.045},{"m":"F","s":"Fa","t":1976.72,"v":-0.096},{"m":"F","s":"Fa","t":1976.94,"v":-0.068},{"m":"F","s":"Fa","t":1977.23,"v":0.000},{"m":"F","s":"Fa","t":1977.43,"v":0.017},{"m":"F","s":"Fa","t":1977.63,"v":-0.006},{"m":"F","s":"Fa","t":1977.86,"v":-0.051},{"m":"F","s":"Fa","t":1978.09,"v":-0.068},{"m":"F","s":"Fa","t":1978.29,"v":-0.028},{"m":"F","s":"Fa","t":1978.49,"v":-0.045},{"m":"F","s":"Fa","t":1978.72,"v":-0.090},{"m":"F","s":"Fa","t":1978.94,"v":-0.079},{"m":"F","s":"Fa","t":1979.23,"v":0.000},{"m":"F","s":"Fa","t":1979.43,"v":0.034},
      {"m":"F","s":"Fb","t":1979.54,"v":0.167},{"m":"F","s":"Fb","t":1979.77,"v":0.249},{"m":"F","s":"Fb","t":1980.31,"v":-0.181},{"m":"F","s":"Fb","t":1980.82,"v":0.107},{"m":"F","s":"Fb","t":1981.33,"v":-0.102},{"m":"F","s":"Fb","t":1981.75,"v":0.226},{"m":"F","s":"Fb","t":1982.24,"v":-0.090},{"m":"F","s":"Fb","t":1982.74,"v":0.221},{"m":"F","s":"Fb","t":1983.24,"v":-0.113},{"m":"F","s":"Fb","t":1983.74,"v":0.294},{"m":"F","s":"Fb","t":1984.23,"v":-0.096},{"m":"F","s":"Fb","t":1984.72,"v":0.229},{"m":"F","s":"Fb","t":1985.26,"v":-0.184},{"m":"F","s":"Fb","t":1985.72,"v":0.256},{"m":"F","s":"Fb","t":1986.25,"v":-0.130},{"m":"F","s":"Fb","t":1986.73,"v":0.325},{"m":"F","s":"Fb","t":1987.25,"v":-0.158},{"m":"F","s":"Fb","t":1987.76,"v":0.167},{"m":"F","s":"Fb","t":1988.24,"v":-0.124},{"m":"F","s":"Fb","t":1988.76,"v":0.250},{"m":"F","s":"Fb","t":1989.20,"v":-0.073},{"m":"F","s":"Fb","t":1989.63,"v":0.368},{"m":"F","s":"Fb","t":1990.17,"v":-0.056},{"m":"F","s":"Fb","t":1990.66,"v":0.319},{"m":"F","s":"Fb","t":1991.22,"v":-0.107},{"m":"F","s":"Fb","t":1991.74,"v":0.239},{"m":"F","s":"Fb","t":1992.22,"v":-0.113},{"m":"F","s":"Fb","t":1992.70,"v":0.325},{"m":"F","s":"Fb","t":1993.20,"v":-0.079},{"m":"F","s":"Fb","t":1993.64,"v":0.222},{"m":"F","s":"Fb","t":1994.23,"v":-0.062},{"m":"F","s":"Fb","t":1994.71,"v":0.424},{"m":"F","s":"Fb","t":1995.20,"v":-0.059},{"m":"F","s":"Fb","t":1995.65,"v":0.371},{"m":"F","s":"Fb","t":1996.21,"v":-0.116},{"m":"F","s":"Fb","t":1996.70,"v":0.297},{"m":"F","s":"Fb","t":1997.20,"v":-0.096},{"m":"F","s":"Fb","t":1997.69,"v":0.251},{"m":"F","s":"Fb","t":1998.19,"v":-0.085},{"m":"F","s":"Fb","t":1998.73,"v":0.328},{"m":"F","s":"Fb","t":1999.19,"v":-0.059},{"m":"F","s":"Fb","t":1999.67,"v":0.444},{"m":"F","s":"Fb","t":2000.18,"v":-0.034},{"m":"F","s":"Fb","t":2000.66,"v":0.427},{"m":"F","s":"Fb","t":2001.17,"v":-0.032},{"m":"F","s":"Fb","t":2001.60,"v":0.413},{"m":"F","s":"Fb","t":2002.17,"v":-0.025},{"m":"F","s":"Fb","t":2002.64,"v":0.427},{"m":"F","s":"Fb","t":2003.21,"v":-0.113},{"m":"F","s":"Fb","t":2003.64,"v":0.529},{"m":"F","s":"Fb","t":2004.20,"v":-0.088},{"m":"F","s":"Fb","t":2004.60,"v":0.337},{"m":"F","s":"Fb","t":2005.20,"v":-0.096},{"m":"F","s":"Fb","t":2005.68,"v":0.438},{"m":"F","s":"Fb","t":2006.20,"v":-0.107},{"m":"F","s":"Fb","t":2006.70,"v":0.495},{"m":"F","s":"Fb","t":2007.18,"v":-0.051},{"m":"F","s":"Fb","t":2007.58,"v":0.534},{"m":"F","s":"Fb","t":2008.17,"v":-0.045},{"m":"F","s":"Fb","t":2008.60,"v":0.438},{"m":"F","s":"Fb","t":2009.16,"v":-0.116},{"m":"F","s":"Fb","t":2009.59,"v":0.486},{"m":"F","s":"Fb","t":2010.15,"v":-0.076},{"m":"F","s":"Fb","t":2010.55,"v":0.507},{"m":"F","s":"Fb","t":2011.14,"v":-0.085},{"m":"F","s":"Fb","t":2011.63,"v":0.469},{"m":"F","s":"Fb","t":2012.13,"v":-0.085},{"m":"F","s":"Fb","t":2012.65,"v":0.538},{"m":"F","s":"Fb","t":2013.18,"v":-0.107},{"m":"F","s":"Fb","t":2013.61,"v":0.470},{"m":"F","s":"Fb","t":2014.06,"v":-0.056},{"m":"F","s":"Fb","t":2014.61,"v":0.497},{"m":"F","s":"Fb","t":2014.90,"v":0.200}
    ],
    "trend": [
      {"m":"H","g":"H1","k":"dash","t":1958.2,"v":0.002},{"m":"H","g":"H1","k":"dash","t":1961,"v":0.001},{"m":"H","g":"H1","k":"dash","t":1964,"v":-0.001},{"m":"H","g":"H1","k":"dash","t":1967,"v":-0.005},{"m":"H","g":"H1","k":"dash","t":1969.7,"v":-0.0096},{"m":"H","g":"H1","k":"dash","t":1972.5,"v":-0.0135},{"m":"H","g":"H1","k":"dash","t":1975,"v":-0.017},{"m":"H","g":"H1","k":"dash","t":1977.5,"v":-0.0186},{"m":"H","g":"H1","k":"dash","t":1979.5,"v":-0.0186},{"m":"H","g":"H1","k":"dash","t":1981,"v":-0.017},{"m":"H","g":"H1","k":"dash","t":1982.7,"v":-0.0145},
      {"m":"H","g":"H2","k":"solid","t":1982.7,"v":-0.0145},{"m":"H","g":"H2","k":"solid","t":1985.2,"v":-0.010},{"m":"H","g":"H2","k":"solid","t":1988.6,"v":0.000},{"m":"H","g":"H2","k":"solid","t":1991.2,"v":0.009},{"m":"H","g":"H2","k":"solid","t":1995,"v":0.027},{"m":"H","g":"H2","k":"solid","t":1999.67,"v":0.050},{"m":"H","g":"H2","k":"solid","t":2002.2,"v":0.060},{"m":"H","g":"H2","k":"solid","t":2004,"v":0.067},{"m":"H","g":"H2","k":"solid","t":2008.2,"v":0.082},{"m":"H","g":"H2","k":"solid","t":2011,"v":0.093},{"m":"H","g":"H2","k":"solid","t":2013.0,"v":0.1006},
      {"m":"H","g":"H3","k":"solid","t":2013.8,"v":0.103},{"m":"H","g":"H3","k":"solid","t":2014.45,"v":0.105},
      {"m":"P","g":"P1","k":"dash","t":1958.2,"v":0.0056},{"m":"P","g":"P1","k":"dash","t":1962,"v":0.005},{"m":"P","g":"P1","k":"dash","t":1965,"v":0.003},{"m":"P","g":"P1","k":"dash","t":1967,"v":0.0017},{"m":"P","g":"P1","k":"dash","t":1969.7,"v":0.0},{"m":"P","g":"P1","k":"dash","t":1972.6,"v":-0.0045},{"m":"P","g":"P1","k":"dash","t":1975.5,"v":-0.0096},{"m":"P","g":"P1","k":"dash","t":1978.3,"v":-0.014},{"m":"P","g":"P1","k":"dash","t":1980,"v":-0.0155},{"m":"P","g":"P1","k":"dash","t":1981.5,"v":-0.016},{"m":"P","g":"P1","k":"dash","t":1983,"v":-0.0145},{"m":"P","g":"P1","k":"dash","t":1985.2,"v":-0.0102},
      {"m":"P","g":"P2","k":"solid","t":1985.2,"v":-0.0102},{"m":"P","g":"P2","k":"solid","t":1988.6,"v":-0.002},{"m":"P","g":"P2","k":"solid","t":1991.2,"v":0.0056},{"m":"P","g":"P2","k":"solid","t":1995,"v":0.022},{"m":"P","g":"P2","k":"solid","t":1999.67,"v":0.041},{"m":"P","g":"P2","k":"solid","t":2002.2,"v":0.052},{"m":"P","g":"P2","k":"solid","t":2004,"v":0.060},{"m":"P","g":"P2","k":"solid","t":2008.2,"v":0.077},{"m":"P","g":"P2","k":"solid","t":2012,"v":0.092},{"m":"P","g":"P2","k":"solid","t":2014.9,"v":0.1017},
      {"m":"F","g":"F1","k":"dash","t":1958.15,"v":0.0395},{"m":"F","g":"F1","k":"dash","t":1960,"v":0.031},{"m":"F","g":"F1","k":"dash","t":1962,"v":0.021},{"m":"F","g":"F1","k":"dash","t":1963.5,"v":0.013},
      {"m":"F","g":"F2","k":"solid","t":1963.5,"v":0.013},{"m":"F","g":"F2","k":"solid","t":1965,"v":0.005},{"m":"F","g":"F2","k":"solid","t":1967,"v":-0.005},{"m":"F","g":"F2","k":"solid","t":1969.7,"v":-0.016},
      {"m":"F","g":"F3","k":"dash","t":1969.7,"v":-0.016},{"m":"F","g":"F3","k":"dash","t":1972,"v":-0.022},{"m":"F","g":"F3","k":"dash","t":1975,"v":-0.025},{"m":"F","g":"F3","k":"dash","t":1977.5,"v":-0.024},{"m":"F","g":"F3","k":"dash","t":1979.8,"v":-0.020},
      {"m":"F","g":"F4","k":"solid","t":1979.8,"v":-0.020},{"m":"F","g":"F4","k":"solid","t":1982.7,"v":-0.010},{"m":"F","g":"F4","k":"solid","t":1985,"v":0.002},{"m":"F","g":"F4","k":"solid","t":1988.5,"v":0.021},{"m":"F","g":"F4","k":"solid","t":1991,"v":0.036},{"m":"F","g":"F4","k":"solid","t":1994,"v":0.057},{"m":"F","g":"F4","k":"solid","t":1996,"v":0.073},{"m":"F","g":"F4","k":"solid","t":1998,"v":0.089},{"m":"F","g":"F4","k":"solid","t":2000,"v":0.106},{"m":"F","g":"F4","k":"solid","t":2002,"v":0.124},{"m":"F","g":"F4","k":"solid","t":2004,"v":0.145},{"m":"F","g":"F4","k":"solid","t":2006,"v":0.165},{"m":"F","g":"F4","k":"solid","t":2008,"v":0.182},{"m":"F","g":"F4","k":"solid","t":2010,"v":0.196},{"m":"F","g":"F4","k":"solid","t":2012,"v":0.208},{"m":"F","g":"F4","k":"solid","t":2014.83,"v":0.226}
    ]
  },
  "layer": [
    {
      "data": {"name": "ref"},
      "mark": {"type": "rule", "strokeWidth": 10, "color": "#d6d6d6", "strokeCap": "butt"},
      "encoding": {
        "x": {"field": "t0", "type": "quantitative", "title": "Date", "scale": {"domain": [1955.4, 2017.07], "nice": false, "zero": false}, "axis": {"values": [1960, 1970, 1980, 1990, 2000, 2010], "format": "d", "labelPadding": -17, "titlePadding": 3}},
        "x2": {"field": "t1"},
        "y": {"field": "v", "type": "quantitative", "title": "European 6 month ET0 anomaly (mm/day)", "scale": {"domain": [-0.234, 0.537], "nice": false, "zero": false}, "axis": {"values": [-0.2, 0, 0.2, 0.4], "labelOffset": -20, "labelPadding": 3, "labelExpr": "datum.value < 0 ? '-' + format(-datum.value, '.1f') : format(datum.value, '.1f')", "titlePadding": 13}}
      }
    },
    {
      "data": {"name": "noisy"},
      "mark": {"type": "line", "strokeWidth": 1, "opacity": 0.75, "interpolate": "monotone"},
      "encoding": {
        "x": {"field": "t", "type": "quantitative", "title": "Date"},
        "y": {"field": "v", "type": "quantitative", "title": "European 6 month ET0 anomaly (mm/day)"},
        "color": {"field": "m", "type": "nominal", "scale": {"domain": ["H", "P", "F"], "range": ["#b2df8a", "#fb9a99", "#a6cee3"]}, "legend": null},
        "detail": {"field": "s"}
      }
    },
    {
      "data": {"values": [{"z": 0}]},
      "mark": {"type": "rule", "strokeDash": [11, 8], "color": "#555555", "strokeWidth": 1.6},
      "encoding": {"y": {"field": "z", "type": "quantitative", "title": "European 6 month ET0 anomaly (mm/day)"}}
    },
    {
      "data": {"name": "trend"},
      "mark": {"type": "line", "strokeWidth": 3, "strokeCap": "butt", "interpolate": "monotone"},
      "encoding": {
        "x": {"field": "t", "type": "quantitative", "title": "Date"},
        "y": {"field": "v", "type": "quantitative", "title": "European 6 month ET0 anomaly (mm/day)"},
        "color": {
          "field": "m", "type": "nominal",
          "scale": {"domain": ["H", "P", "F"], "range": ["#33a02c", "#e31a1c", "#1f78b4"]},
          "legend": {
            "title": "ET0 Model",
            "orient": "none", "legendX": 26, "legendY": -18,
            "direction": "horizontal",
            "padding": 0,
            "titleFontSize": 18, "titleFontWeight": "bold", "titleColor": "black", "titleFont": "Liberation Sans", "titlePadding": -34,
            "labelFontSize": 18, "labelColor": "black", "labelFont": "Liberation Sans", "labelLimit": 400,
            "labelAlign": "center", "labelBaseline": "top", "labelOffset": -57,
            "symbolType": "stroke", "symbolStrokeWidth": 3.5, "symbolSize": 12100,
            "columnPadding": 27,
            "labelExpr": "datum.label == 'H' ? ['Hargreaves', ''] : datum.label == 'P' ? ['Penman-Monthieth', 'Hargreaves Rad'] : ['Full Penman-Montieth', '']"
          }
        },
        "strokeDash": {"field": "k", "type": "nominal", "scale": {"domain": ["dash", "solid"], "range": [[8, 8], [1, 0]]}, "legend": null},
        "detail": {"field": "g"}
      }
    }
  ],
  "resolve": {"scale": {"color": "independent"}}
}
